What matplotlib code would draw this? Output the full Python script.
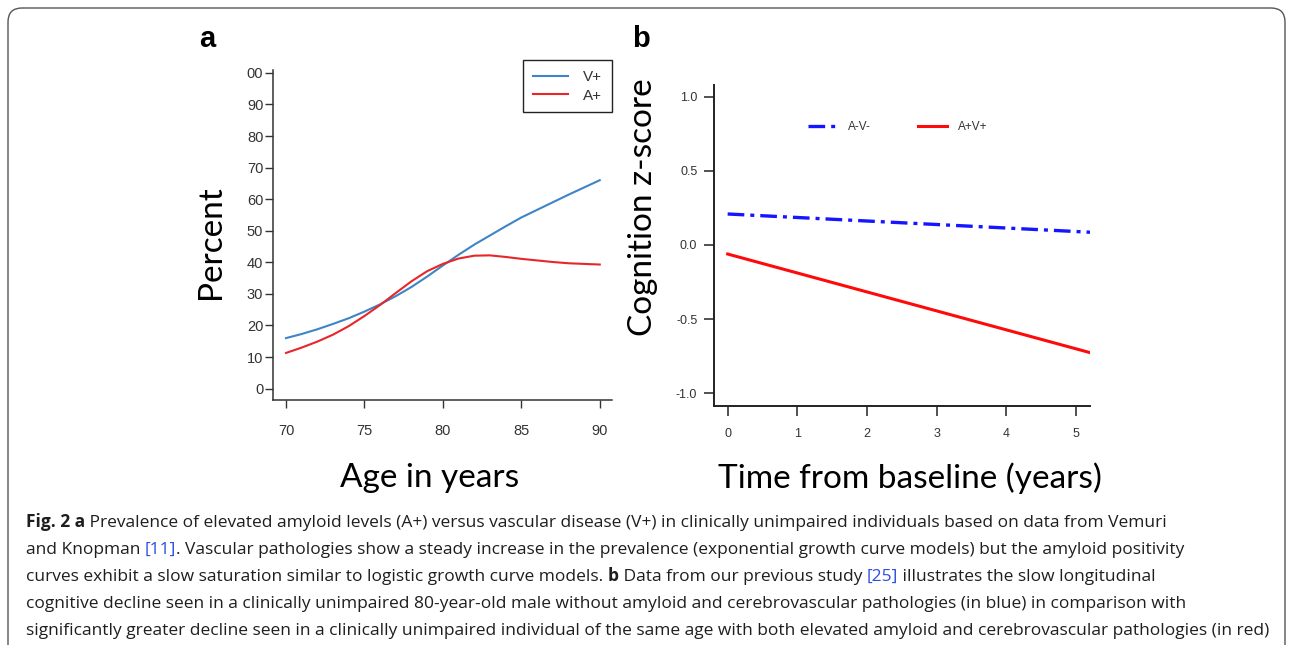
import matplotlib
matplotlib.use('Agg')
import matplotlib.pyplot as plt
from matplotlib import font_manager
from matplotlib.patches import FancyBboxPatch
from matplotlib.transforms import IdentityTransform

# ---- panel a data
ages = list(range(70, 91))
v_pos = [16.0, 17.3, 18.8, 20.5, 22.3, 24.4, 26.7, 29.3, 32.2, 35.5, 39.0,
         42.4, 45.6, 48.5, 51.4, 54.2, 56.6, 59.0, 61.4, 63.7, 66.0]
a_pos = [11.3, 13.0, 14.9, 17.1, 19.8, 23.0, 26.5, 30.3, 34.0, 37.2, 39.5,
         41.2, 42.1, 42.2, 41.7, 41.1, 40.6, 40.1, 39.7, 39.5, 39.3]
yticks_a = [0, 10, 20, 30, 40, 50, 60, 70, 80, 90, 100]
ylabels_a = ['0', '10', '20', '30', '40', '50', '60', '70', '80', '90', '00']
xticks_a = [70, 75, 80, 85, 90]

# ---- panel b data
years = [0, 5.2]
av_neg = [0.209, 0.086]
av_pos = [-0.061, -0.726]
yticks_b = [1.0, 0.5, 0.0, -0.5, -1.0]
ylabels_b = ['1.0', '0.5', '0.0', '-0.5', '-1.0']
xticks_b = [0, 1, 2, 3, 4, 5]

def have(name):
    try:
        font_manager.findfont(name, fallback_to_default=False)
        return True
    except Exception:
        return False

cap_font = 'Open Sans' if have('Open Sans') else 'DejaVu Sans'
lab_font = 'Lato' if have('Lato') else 'DejaVu Sans'
tick_font = 'Liberation Sans'

W, H = 1293, 645
fig = plt.figure(figsize=(W / 100, H / 100), dpi=100)

def fx(px):
    return px / W

def fy(py):
    return 1 - py / H

# ---------------- panel a
ax1 = fig.add_axes([fx(273), fy(400), fx(612 - 273), (400 - 70) / H])
ax1.plot(ages, v_pos, color='#3d85c6', lw=1.5, label='V+')
ax1.plot(ages, a_pos, color='#e8262a', lw=1.5, label='A+')
ax1.set_xlim(69.17, 90.78)
ax1.set_ylim(-3.6, 100.9)
ax1.set_yticks(yticks_a)
ax1.set_yticklabels(ylabels_a)
ax1.set_xticks(xticks_a)
for s in ['top', 'right']:
    ax1.spines[s].set_visible(False)
for s in ['left', 'bottom']:
    ax1.spines[s].set_color('#333333')
    ax1.spines[s].set_linewidth(1.1)
ax1.tick_params(axis='y', length=6, width=1, color='#333333', pad=1,
                labelsize=10.5, labelcolor='#333333')
ax1.tick_params(axis='x', length=6, width=1, color='#333333', pad=11,
                labelsize=10.5, labelcolor='#333333')
for t in ax1.get_xticklabels() + ax1.get_yticklabels():
    t.set_family(tick_font)
leg1 = ax1.legend(loc='upper right', bbox_to_anchor=(fx(612), fy(60)),
                  bbox_transform=fig.transFigure, borderaxespad=0,
                  fancybox=False, edgecolor='#222222', framealpha=1,
                  prop={'family': tick_font, 'size': 11},
                  handlelength=2.3, handletextpad=1.0, labelspacing=0.3,
                  borderpad=0.65)
leg1.get_frame().set_linewidth(1.0)
for t in leg1.get_texts():
    t.set_color('#333333')

# ---------------- panel b
ax2 = fig.add_axes([fx(714), fy(405.7), fx(1090 - 714), (405.7 - 85) / H])
ax2.plot(years, av_neg, color='#1515ff', lw=2.4,
         linestyle=(0, (5, 1.8, 1.2, 1.8)), label='A-V-')
ax2.plot(years, av_pos, color='#ff0a0a', lw=2.2, label='A+V+')
ax2.set_xlim(-0.196, 5.2)
ax2.set_ylim(-1.084, 1.079)
ax2.set_yticks(yticks_b)
ax2.set_yticklabels(ylabels_b)
ax2.set_xticks(xticks_b)
for s in ['top', 'right']:
    ax2.spines[s].set_visible(False)
for s in ['left', 'bottom']:
    ax2.spines[s].set_color('#222222')
    ax2.spines[s].set_linewidth(1.4)
ax2.tick_params(axis='y', length=7, width=1.1, color='#222222', pad=5,
                labelsize=9, labelcolor='#333333')
ax2.tick_params(axis='x', length=7, width=1.1, color='#222222', pad=9,
                labelsize=9, labelcolor='#333333')
for t in ax2.get_xticklabels() + ax2.get_yticklabels():
    t.set_family(tick_font)
leg2 = ax2.legend(loc='center left', bbox_to_anchor=(fx(808), fy(126.7)),
                  bbox_transform=fig.transFigure, borderaxespad=0, borderpad=0,
                  frameon=False, ncol=2, prop={'family': tick_font, 'size': 8.5},
                  handlelength=2.4, handletextpad=1.0, columnspacing=4.0)
for t in leg2.get_texts():
    t.set_color('#333333')

# ---------------- panel letters and big axis labels
fig.text(fx(199), fy(47), 'a', family=tick_font, weight='bold', size=21,
         va='baseline', ha='left')
fig.text(fx(632), fy(47), 'b', family=tick_font, weight='bold', size=21,
         va='baseline', ha='left')
fig.text(fx(211), fy(242), 'Percent', family=lab_font, size=24,
         rotation=90, ha='center', va='center')
fig.text(fx(430), fy(478), 'Age in years', family=lab_font, size=24,
         ha='center', va='center')
fig.text(fx(643), fy(207), 'Cognition z-score', family=lab_font, size=24,
         rotation=90, ha='center', va='center')
fig.text(fx(910), fy(478), 'Time from baseline (years)', family=lab_font,
         size=24, ha='center', va='center')

# ---------------- caption
blue = '#2b4fe0'
ink = '#1e1e1e'
caption = [
    [('Fig. 2 a', 'bold', ink),
     (' Prevalence of elevated amyloid levels (A+) versus vascular disease (V+) '
      'in clinically unimpaired individuals based on data from Vemuri', 'normal', ink)],
    [('and Knopman ', 'normal', ink), ('[11]', 'normal', blue),
     ('. Vascular pathologies show a steady increase in the prevalence (exponential '
      'growth curve models) but the amyloid positivity', 'normal', ink)],
    [('curves exhibit a slow saturation similar to logistic growth curve models. ',
      'normal', ink), ('b', 'bold', ink),
     (' Data from our previous study ', 'normal', ink), ('[25]', 'normal', blue),
     (' illustrates the slow longitudinal', 'normal', ink)],
    [('cognitive decline seen in a clinically unimpaired 80-year-old male without '
      'amyloid and cerebrovascular pathologies (in blue) in comparison with',
      'normal', ink)],
    [('significantly greater decline seen in a clinically unimpaired individual of '
      'the same age with both elevated amyloid and cerebrovascular pathologies (in red)',
      'normal', ink)],
]
baselines = [527, 554, 581, 608, 635]
cap_left, cap_right = 26, 1257

renderer = fig.canvas.get_renderer()

def line_width(segs, size):
    w = 0.0
    for txt, wt, col in segs:
        t = fig.text(0, 0, txt, family=cap_font, size=size, weight=wt)
        w += t.get_window_extent(renderer).width
        t.remove()
    return w

# size the caption so its widest line ends where the reference's does
widest = max(line_width(segs, 12.0) for segs in caption)
cap_size = 12.0 * (cap_right - cap_left) / widest

for segs, yb in zip(caption, baselines):
    x = float(cap_left)
    for txt, wt, col in segs:
        t = fig.text(fx(x), fy(yb), txt, family=cap_font, size=cap_size,
                     weight=wt, color=col, va='baseline', ha='left')
        x += t.get_window_extent(renderer).width

# ---------------- rounded frame around the figure
frame = FancyBboxPatch((8, -30), W - 16, H - 8 + 30,
                       boxstyle='round,pad=0,rounding_size=14',
                       transform=IdentityTransform(), fill=False,
                       edgecolor='#555555', lw=1.0)
fig.patches.append(frame)

plt.savefig('out.png', dpi=100)
